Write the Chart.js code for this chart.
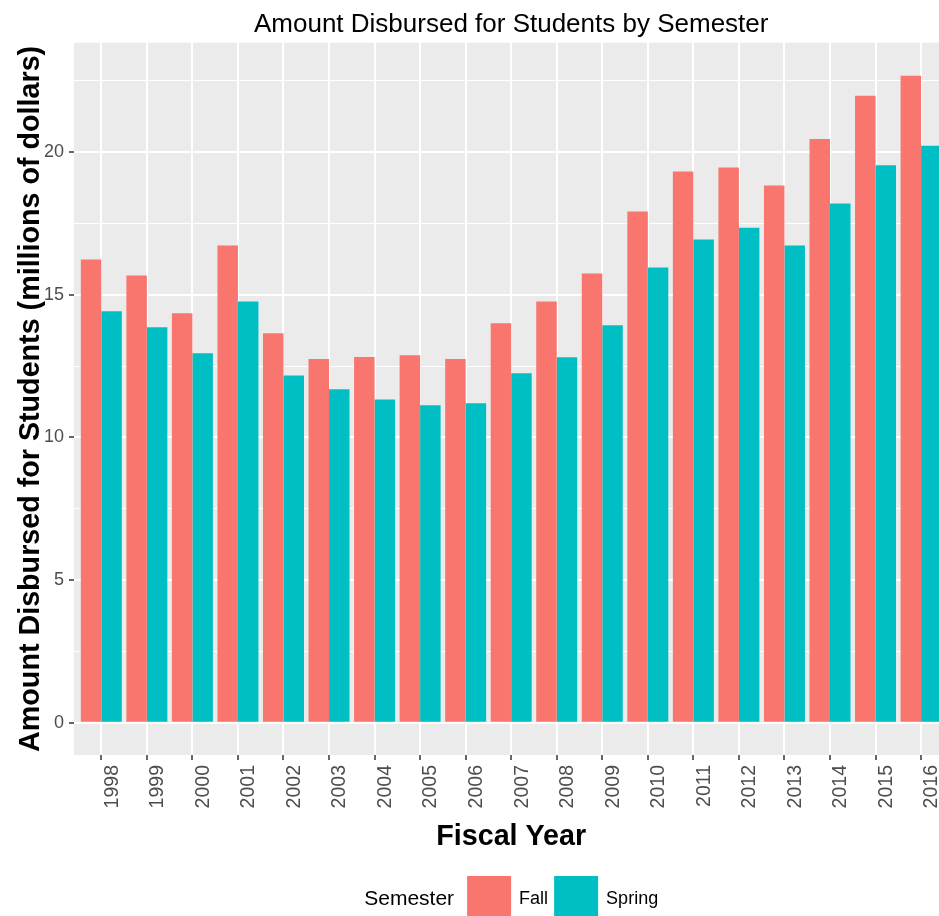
<!DOCTYPE html>
<html>
<head>
<meta charset="utf-8">
<title>Amount Disbursed for Students by Semester</title>
<script src="https://cdn.jsdelivr.net/npm/chart.js@4.4.1/dist/chart.umd.min.js"></script>
<style>
   html, body { margin: 0; padding: 0; background: #fff; overflow: hidden; }
   #wrap { width: 939px; height: 916px; overflow: hidden; }
</style>
</head>
<body>
<div id="wrap"><canvas id="myChart" width="1024" height="916"></canvas></div>
<script>
// fiscal years on the x axis
var years = [1998, 1999, 2000, 2001, 2002, 2003, 2004, 2005, 2006, 2007,
             2008, 2009, 2010, 2011, 2012, 2013, 2014, 2015, 2016];

// millions of dollars
var fall = [16.24, 15.68, 14.35, 16.73, 13.65, 12.75, 12.82, 12.88, 12.75, 14.00,
            14.77, 15.75, 17.92, 19.32, 19.46, 18.83, 20.46, 21.98, 22.68];
var spring = [14.42, 13.86, 12.95, 14.77, 12.17, 11.69, 11.33, 11.13, 11.20, 12.25,
              12.81, 13.93, 15.96, 16.94, 17.35, 16.73, 18.20, 19.54, 20.23];

var semesters = ['Fall', 'Spring'];
var yTickLabels = [0, 5, 10, 15, 20];

var fallColor = '#F8766D';
var springColor = '#00BFC4';
var font = '"Liberation Sans", Arial, sans-serif';

function points(values) {
   var out = [];
   for (var i = 0; i < years.length; i++) {
      out.push({x: years[i], y: values[i]});
   }
   return out;
}

// grey ggplot panel behind the grid
var panelPlugin = {
   id: 'panel',
   beforeDraw: function(chart) {
      var a = chart.chartArea;
      var ctx = chart.ctx;
      ctx.save();
      ctx.fillStyle = '#EBEBEB';
      ctx.fillRect(a.left, a.top, a.right - a.left, a.bottom - a.top);
      ctx.restore();
   }
};

// legend laid out like ggplot's bottom legend: title, key, label, key, label
var legendPlugin = {
   id: 'semesterLegend',
   afterDraw: function(chart) {
      var ctx = chart.ctx;
      var a = chart.chartArea;
      var box = 44;
      var boxTop = chart.height - 40;
      var midY = boxTop + box / 2 + 1;
      var sets = chart.data.datasets;

      ctx.save();
      ctx.textBaseline = 'middle';
      ctx.textAlign = 'left';

      ctx.font = '21px ' + font;
      var titleW = ctx.measureText('Semester').width;
      ctx.font = '18px ' + font;
      var widths = [];
      var total = titleW + 13;
      for (var i = 0; i < sets.length; i++) {
         widths.push(ctx.measureText(sets[i].label).width);
         total += box + 8 + widths[i] + (i < sets.length - 1 ? 6 : 0);
      }

      var x = (a.left + a.right) / 2 - total / 2;
      ctx.fillStyle = '#000';
      ctx.font = '21px ' + font;
      ctx.fillText('Semester', x, midY);
      x += titleW + 13;

      ctx.font = '18px ' + font;
      for (var j = 0; j < sets.length; j++) {
         ctx.fillStyle = sets[j].backgroundColor;
         ctx.fillRect(x, boxTop, box, box);
         x += box + 8;
         ctx.fillStyle = '#000';
         ctx.fillText(sets[j].label, x, midY);
         x += widths[j] + 6;
      }
      ctx.restore();
   }
};

var context = document.getElementById('myChart').getContext('2d');
var chart = new Chart(context, {
   type: 'bar',
   data: {
      datasets: [
         {label: semesters[0], data: points(fall), backgroundColor: fallColor, borderWidth: 0},
         {label: semesters[1], data: points(spring), backgroundColor: springColor, borderWidth: 0}
      ]
   },
   options: {
      responsive: false,
      animation: false,
      layout: {padding: {left: 0, right: 1.6, top: 0, bottom: 56}},
      datasets: {bar: {categoryPercentage: 0.9, barPercentage: 1.0}},
      plugins: {
         legend: {display: false},
         tooltip: {enabled: false},
         title: {
            display: true,
            text: 'Amount Disbursed for Students by Semester',
            color: '#000',
            font: {family: font, size: 26, weight: 'normal', lineHeight: 1.2},
            padding: {top: 9, bottom: 2.5}
         }
      },
      scales: {
         x: {
            type: 'linear',
            min: 1997.4,
            max: 2016.6,
            offset: false,
            afterFit: function(scale) { scale.height = 105; },
            border: {display: false},
            grid: {
               offset: false,
               color: '#FFFFFF',
               lineWidth: 2,
               tickColor: '#333333',
               tickWidth: 1.5,
               tickLength: 5
            },
            ticks: {
               stepSize: 1,
               includeBounds: false,
               autoSkip: false,
               minRotation: 90,
               maxRotation: 90,
               labelOffset: 11,
               padding: 5,
               color: '#4D4D4D',
               font: {family: font, size: 19.5},
               callback: function(v) { return String(v); }
            },
            title: {
               display: true,
               text: 'Fiscal Year',
               color: '#000',
               font: {family: font, size: 28.7, weight: 'bold', lineHeight: 1.2},
               padding: {top: 0, bottom: 6}
            }
         },
         y: {
            type: 'linear',
            min: -1.135,
            max: 23.84,
            afterFit: function(scale) { scale.width = 74; },
            border: {display: false},
            grid: {
               color: '#FFFFFF',
               lineWidth: function(c) { return c.tick && c.tick.value % 5 === 0 ? 2 : 1; },
               tickColor: function(c) {
                  return c.tick && yTickLabels.indexOf(c.tick.value) >= 0 ? '#333333' : 'rgba(0,0,0,0)';
               },
               tickWidth: 1.5,
               tickLength: 5
            },
            ticks: {
               stepSize: 2.5,
               includeBounds: false,
               padding: 5,
               color: '#4D4D4D',
               font: {family: font, size: 18},
               callback: function(v) { return yTickLabels.indexOf(v) >= 0 ? String(v) : ''; }
            },
            title: {
               display: true,
               text: 'Amount Disbursed for Students (millions of dollars)',
               color: '#000',
               font: {family: font, size: 28.7, weight: 'bold', lineHeight: 1.2},
               padding: {top: 14, bottom: 0}
            }
         },
         // empty right-hand margin so the title centres over the panel, as ggplot does
         margin: {
            type: 'linear',
            position: 'right',
            afterFit: function(scale) { scale.width = 74; },
            border: {display: false},
            grid: {display: false},
            ticks: {display: false}
         }
      }
   },
   plugins: [panelPlugin, legendPlugin]
});
</script>
</body>
</html>
